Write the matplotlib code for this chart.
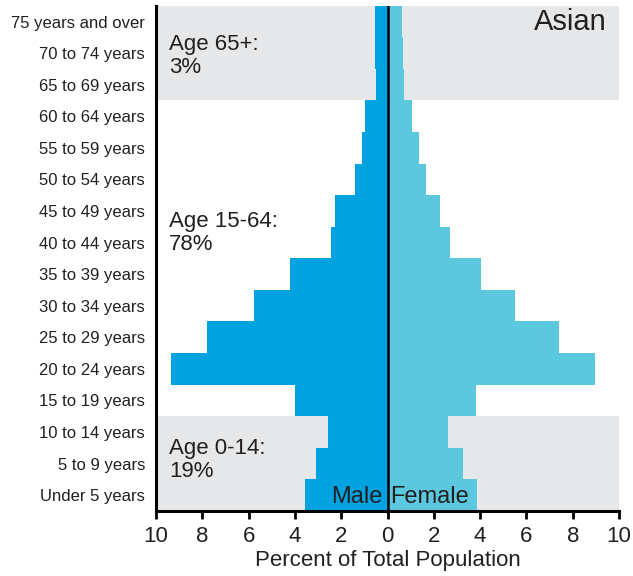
import matplotlib
matplotlib.use("Agg")
import matplotlib.pyplot as plt
import numpy as np

# age groups, bottom to top
ages = ["Under 5 years", "5 to 9 years", "10 to 14 years", "15 to 19 years",
        "20 to 24 years", "25 to 29 years", "30 to 34 years", "35 to 39 years",
        "40 to 44 years", "45 to 49 years", "50 to 54 years", "55 to 59 years",
        "60 to 64 years", "65 to 69 years", "70 to 74 years", "75 years and over"]
male = [3.56, 3.11, 2.58, 4.0, 9.37, 7.8, 5.75, 4.23,
        2.43, 2.26, 1.4, 1.11, 0.96, 0.5, 0.55, 0.55]
female = [3.87, 3.28, 2.6, 3.83, 8.98, 7.39, 5.49, 4.02,
          2.71, 2.28, 1.67, 1.34, 1.05, 0.7, 0.66, 0.62]
xticks = [-10, -8, -6, -4, -2, 0, 2, 4, 6, 8, 10]
groups = ["Age 0-14:\n19%", "Age 15-64:\n78%", "Age 65+:\n3%"]

plt.rcParams['font.family'] = ["Liberation Sans", "DejaVu Sans"]
txt = "#231f20"

fig = plt.figure(figsize=(6.33, 5.76), dpi=100)
ax = fig.add_axes([0.2465, 0.113, 0.7315, 0.877])

y = np.arange(len(ages))
ax.axhspan(-0.5, 2.5, color="#e6e7e8", zorder=0, lw=0)
ax.axhspan(12.5, 15.5, color="#e6e7e8", zorder=0, lw=0)
ax.barh(y, -np.array(male), height=1.0, color="#00a3e0", lw=0, zorder=2)
ax.barh(y, female, height=1.0, color="#5bc8df", lw=0, zorder=2)
ax.axvline(0, color="black", lw=1.8, zorder=3)

ax.set_xlim(-10, 10)
ax.set_ylim(-0.5, 15.5)
ax.set_yticks(y)
ax.set_yticklabels(ages, fontsize=12, color=txt)
ax.tick_params(axis="y", length=0, pad=8)
ax.set_xticks(xticks)
ax.set_xticklabels([str(abs(v)) for v in xticks], fontsize=16, color=txt)
ax.tick_params(axis="x", direction="out", length=6, width=2, pad=5)
ax.spines["top"].set_visible(False)
ax.spines["right"].set_visible(False)
ax.spines["left"].set_linewidth(2.2)
ax.spines["bottom"].set_linewidth(2.2)
ax.set_xlabel("Percent of Total Population", fontsize=16, color=txt, labelpad=2)

ax.text(-9.45, 1.12, groups[0], fontsize=16, color=txt, va="center", linespacing=1.1)
ax.text(-9.45, 8.3, groups[1], fontsize=16, color=txt, va="center", linespacing=1.1)
ax.text(-9.45, 13.9, groups[2], fontsize=16, color=txt, va="center", linespacing=1.1)
ax.text(9.46, 15.0, "Asian", fontsize=21, color=txt, ha="right", va="center")
ax.text(-0.2, -0.06, "Male", fontsize=17, color=txt, ha="right", va="center", zorder=4)
ax.text(0.13, -0.06, "Female", fontsize=17, color=txt, ha="left", va="center", zorder=4)

plt.savefig("out.png", dpi=100)
